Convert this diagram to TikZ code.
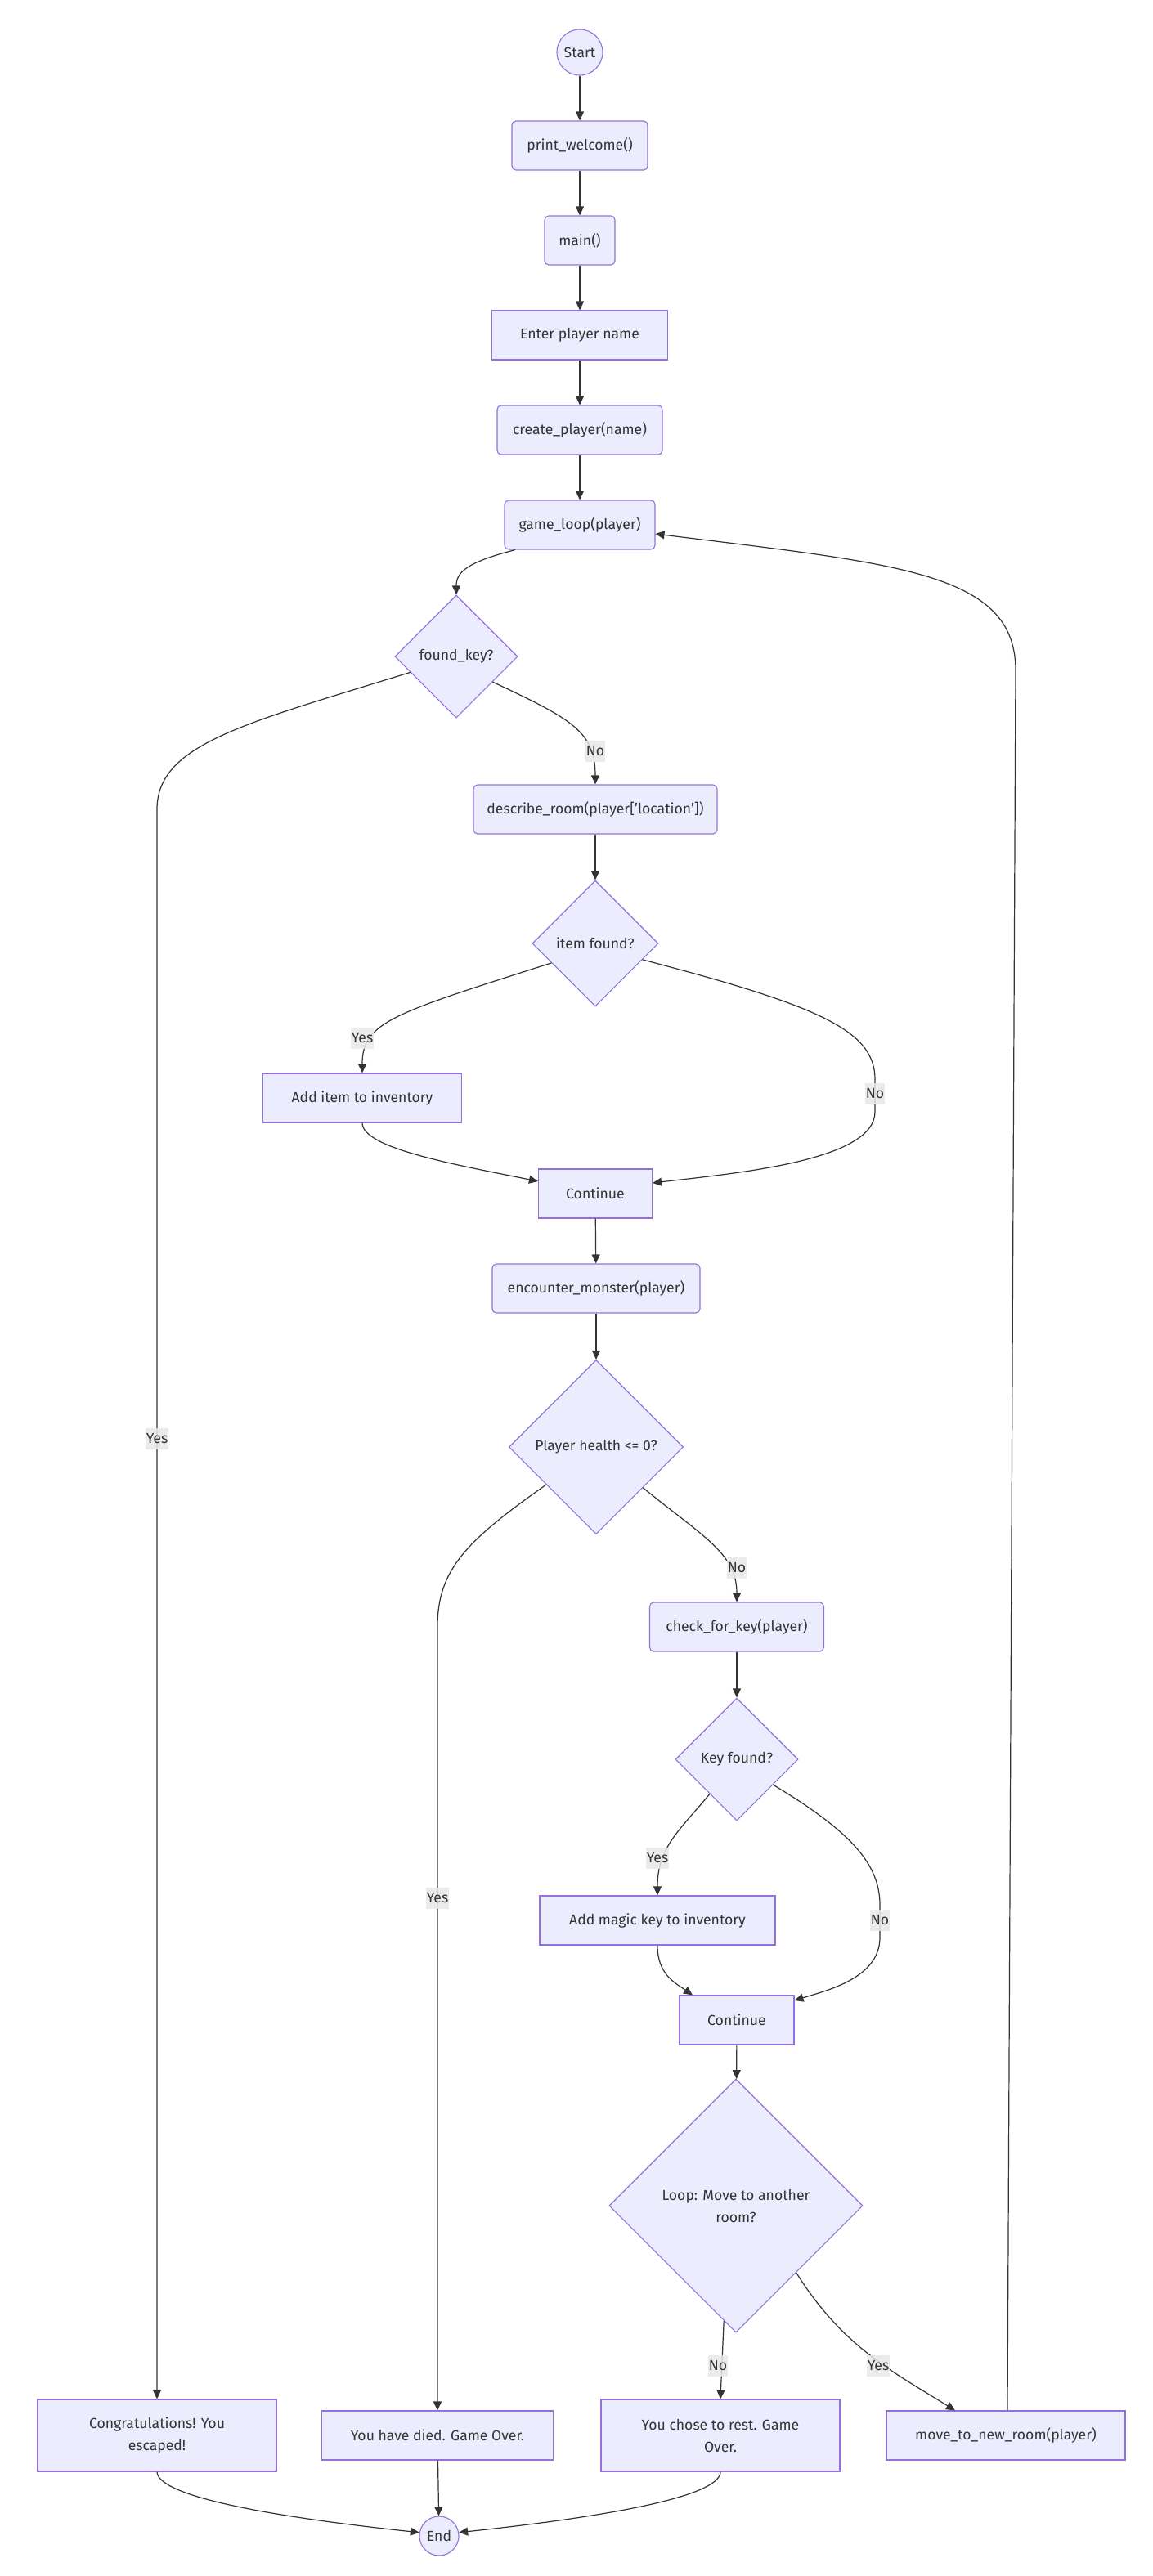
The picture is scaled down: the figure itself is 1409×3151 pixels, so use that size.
\documentclass[tikz,border=0pt]{standalone}
\usepackage{fontspec}
\setmainfont{Fira Sans}
\usetikzlibrary{shapes.geometric,arrows.meta,calc}
\definecolor{nodefill}{HTML}{ECECFF}
\definecolor{nodeborder}{HTML}{9370DB}
\definecolor{linecol}{HTML}{333333}
\definecolor{txtcol}{HTML}{333333}
\definecolor{labelbg}{HTML}{E8E8E8}
\newcommand\diagfont{\fontsize{17.6}{27}\selectfont}
\tikzset{
  base/.style={draw=nodeborder, fill=nodefill, line width=1.1pt, font=\diagfont, text=txtcol, inner sep=0pt, align=center},
  rbox/.style={base, rectangle, rounded corners=5pt, minimum height=60pt},
  sbox/.style={base, rectangle, minimum height=60pt},
  dec/.style={base, diamond, shape aspect=1},
  term/.style={base, circle},
  lbl/.style={fill=labelbg, fill opacity=0.85, text opacity=1, text=txtcol, inner xsep=1pt, inner ysep=0pt, minimum height=26pt, font=\diagfont},
  conn/.style={draw=linecol, line width=1.2pt, -{Triangle[length=11pt,width=10pt]}},
}
\begin{document}
\begin{tikzpicture}[x=1pt,y=-1pt]
\useasboundingbox (0,0) rectangle (1409,3151);
% nodes
\node[term, minimum size=56pt] (start) at (709,64) {Start};
\node[rbox, minimum width=166pt] (pw) at (709,178) {print\_welcome()};
\node[rbox, minimum width=86pt] (mainn) at (709,294) {main()};
\node[sbox, minimum width=215pt] (enter) at (709,410) {Enter player name};
\node[rbox, minimum width=202pt] (create) at (709,526) {create\_player(name)};
\node[rbox, minimum width=184pt] (gl) at (709,642) {game\_loop(player)};
\node[dec, minimum width=150pt, minimum height=150pt] (fk) at (558,803) {found\_key?};
\node[rbox, minimum width=298pt] (dr) at (728,990) {describe\_room(player['location'])};
\node[dec, minimum width=154pt, minimum height=154pt] (itf) at (728,1154) {item found?};
\node[sbox, minimum width=243pt] (additem) at (443,1343) {Add item to inventory};
\node[sbox, minimum width=139pt] (cont1) at (728,1460) {Continue};
\node[rbox, minimum width=254pt] (enc) at (729,1576) {encounter\_monster(player)};
\node[dec, minimum width=213pt, minimum height=213pt] (ph) at (729,1770) {Player health <= 0?};
\node[rbox, minimum width=213pt] (ck) at (901,1990) {check\_for\_key(player)};
\node[dec, minimum width=150pt, minimum height=150pt] (kf) at (901,2152) {Key found?};
\node[sbox, minimum width=288pt] (addkey) at (804,2349) {Add magic key to inventory};
\node[sbox, minimum width=140pt] (cont2) at (901,2471) {Continue};
\node[dec, minimum width=310pt, minimum height=310pt] (loop) at (900,2698) {Loop: Move to another\\room?};
\node[sbox, minimum width=292pt, minimum height=88pt] (congr) at (192,2979) {Congratulations! You\\escaped!};
\node[sbox, minimum width=283pt] (died) at (535,2979) {You have died. Game Over.};
\node[sbox, minimum width=292pt, minimum height=88pt] (rest) at (881,2979) {You chose to rest. Game\\Over.};
\node[sbox, minimum width=292pt] (move) at (1230,2979) {move\_to\_new\_room(player)};
\node[term, minimum size=48pt] (endn) at (537,3102) {End};
% connectors
\draw[conn] (start) -- (pw);
\draw[conn] (pw) -- (mainn);
\draw[conn] (mainn) -- (enter);
\draw[conn] (enter) -- (create);
\draw[conn] (create) -- (gl);
\draw[conn] ($(gl.south)+(-79,0)$) .. controls (570,688) and (558,700) .. (fk.north);
\draw[conn] (fk.199) .. controls (300,885) and (192,910) .. (192,990) -- (congr.north);
\draw[conn] (fk.-35) .. controls (700,880) and (728,895) .. (dr.north);
\draw[conn] (dr) -- (itf);
\draw[conn] (itf.204) .. controls (480,1240) and (443,1250) .. (additem.north);
\draw[conn] (itf.-19) .. controls (1000,1230) and (1070,1260) .. (1070,1320) -- (1070,1360) .. controls (1070,1420) and (900,1435) .. ($(cont1.east)+(0,-13)$);
\draw[conn] (additem.south) .. controls (443,1405) and (560,1425) .. ($(cont1.west)+(0,-15)$);
\draw[conn] (cont1) -- (enc);
\draw[conn] (enc) -- (ph);
\draw[conn] (ph.217) .. controls (570,1885) and (535,1920) .. (535,1990) -- (died.north);
\draw[conn] (ph.-41) .. controls (860,1880) and (901,1900) .. (ck.north);
\draw[conn] (ck) -- (kf);
\draw[conn] (kf.232) .. controls (830,2240) and (804,2260) .. (addkey.north);
\draw[conn] (kf.-35) .. controls (1040,2240) and (1076,2280) .. (1076,2330) -- (1076,2370) .. controls (1076,2420) and (1010,2435) .. ($(cont2.east)+(0,-24)$);
\draw[conn] (addkey.south) .. controls (804,2415) and (825,2425) .. ($(cont2.north)+(-54,0)$);
\draw[conn] (cont2) -- (loop);
\draw[conn] (loop.264) -- (rest.north);
\draw[conn] (loop.-48) .. controls (1030,2870) and (1090,2900) .. ($(move.north)+(-62,0)$);
\draw[conn] ($(move.north)+(2,0)$) -- (1242,820) .. controls (1242,700) and (1100,690) .. ($(gl.east)+(0,11)$);
\draw[conn] (congr.south) .. controls (193,3050) and (300,3075) .. (endn.170);
\draw[conn] (died) -- (endn);
\draw[conn] (rest.south) .. controls (881,3050) and (774,3075) .. (endn.10);
% edge labels
\node[lbl] (l1) at (728,919) {No};
\node[lbl] (l2) at (192,1760) {Yes};
\node[lbl] (l3) at (443,1270) {Yes};
\node[lbl] (l4) at (1070,1338) {No};
\node[lbl] (l5) at (535,2322) {Yes};
\node[lbl] (l6) at (901,1918) {No};
\node[lbl] (l7) at (804,2273) {Yes};
\node[lbl] (l8) at (1076,2349) {No};
\node[lbl] (l9) at (878,2894) {No};
\node[lbl] (l10) at (1074,2894) {Yes};
\end{tikzpicture}
\end{document}
